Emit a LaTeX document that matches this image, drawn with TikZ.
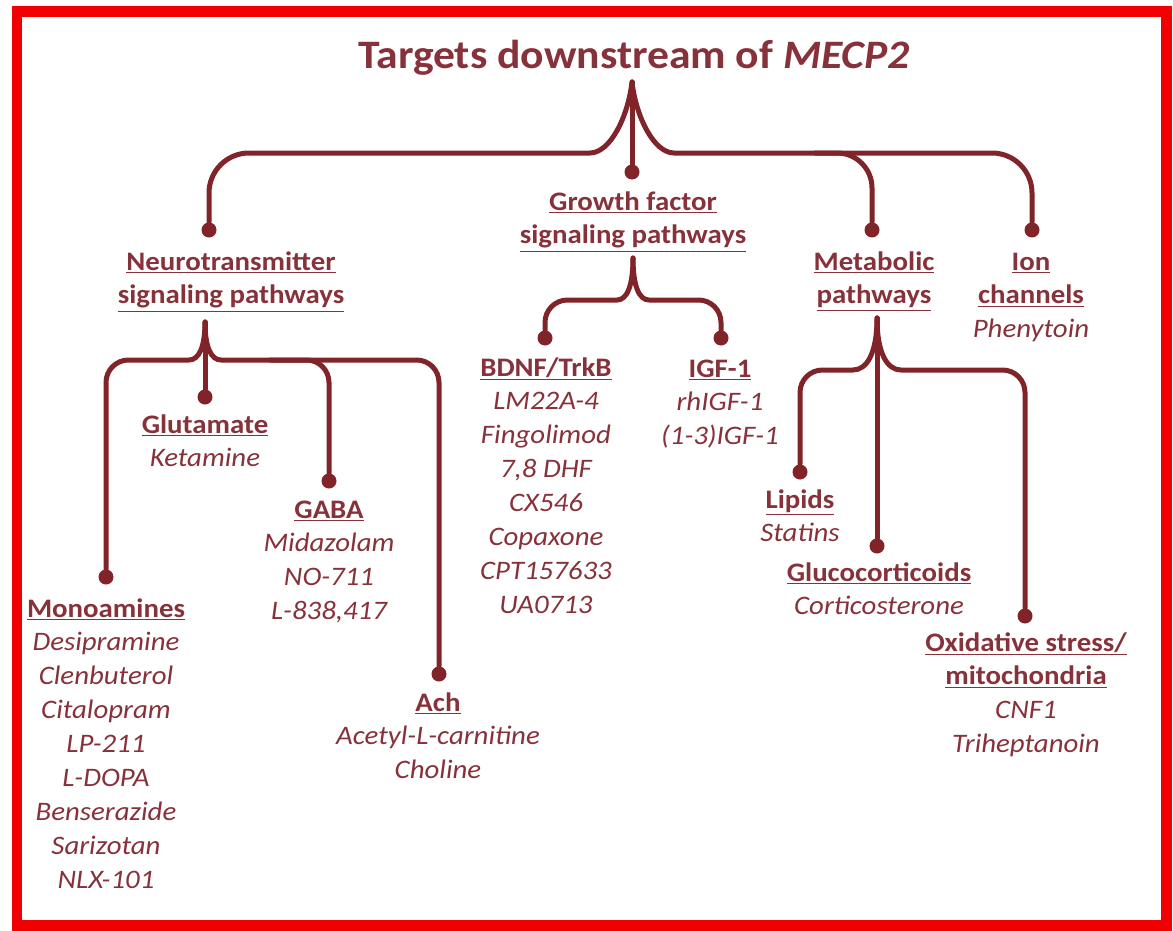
\documentclass[tikz,border=0pt]{standalone}
\usepackage{fontspec}
\setmainfont{Carlito}[FakeStretch=1.08]
\usepackage{array}
\definecolor{linecol}{RGB}{128,36,42}
\definecolor{txtcol}{RGB}{135,50,58}
\definecolor{framecol}{RGB}{240,0,0}
\newcommand{\hd}[1]{\textup{\textbf{\underline{#1}}}}
\newcommand{\stack}[1]{\begin{tabular}[t]{@{}>{\itshape}c@{}}#1\end{tabular}}
\begin{document}
\begin{tikzpicture}[x=0.02cm, y=0.02cm,
	link/.style={draw=linecol, line width=0.1cm, line cap=round},
	dot/.style={circle, fill=linecol, inner sep=0pt, minimum size=0.3cm},
	lbl/.style={anchor=base, text=txtcol, inner sep=0pt, font=\fontsize{15.2}{19.3}\selectfont}]
	\useasboundingbox (0,0) rectangle (1173,-930);
	\draw[line width=0.22cm, framecol] (17,-11) rectangle (1166,-925);
	
	\node[lbl, font=\fontsize{23}{28}\selectfont\bfseries] (title) at (634,-68) {Targets downstream of \textit{MECP2}};
	
	\coordinate (tip-0) at (632,-82);
	\coordinate (tip-1) at (205,-322);
	\coordinate (tip-2) at (633,-258);
	\coordinate (tip-3) at (877,-318);
	\coordinate (br-metab) at (815,-153);
	\coordinate (br-gaba) at (270,-360);
	
	\node[dot] (dot-neuro) at (209,-230) {};
	\node[dot] (dot-growth) at (632,-172) {};
	\node[dot] (dot-metab) at (872,-230) {};
	\node[dot] (dot-ion) at (1032,-230) {};
	\node[dot] (dot-mono) at (106,-577) {};
	\node[dot] (dot-glut) at (205,-397) {};
	\node[dot] (dot-gaba) at (329,-481) {};
	\node[dot] (dot-ach) at (439,-674) {};
	\node[dot] (dot-bdnf) at (545,-338) {};
	\node[dot] (dot-igf) at (721,-338) {};
	\node[dot] (dot-lip) at (800,-472) {};
	\node[dot] (dot-gluc) at (877,-546) {};
	\node[dot] (dot-ox) at (1025,-616) {};
	
	\draw[link] (tip-0) .. controls +(-4,-35) and +(20,0) .. ++(-42,-71) [rounded corners=0.8cm] -| (dot-neuro);
	\draw[link] (tip-0) -- (dot-growth);
	\draw[link] (tip-0) .. controls +(4,-35) and +(-20,0) .. ++(42,-71) [rounded corners=0.8cm] -| (dot-ion);
	\draw[link, rounded corners=0.7cm] (br-metab) -| (dot-metab);
	
	\draw[link] (tip-1) .. controls +(0,-25) and +(10,0) .. ++(-16,-38) [rounded corners=0.45cm] -| (dot-mono);
	\draw[link] (tip-1) -- (dot-glut);
	\draw[link] (tip-1) .. controls +(0,-25) and +(-10,0) .. ++(16,-38) [rounded corners=0.45cm] -| (dot-ach);
	\draw[link, rounded corners=0.45cm] (br-gaba) -| (dot-gaba);
	
	\draw[link] (tip-2) .. controls +(0,-28) and +(10,0) .. ++(-16,-42) [rounded corners=0.45cm] -| (dot-bdnf);
	\draw[link] (tip-2) .. controls +(0,-28) and +(-10,0) .. ++(16,-42) [rounded corners=0.45cm] -| (dot-igf);
	
	\draw[link] (tip-3) .. controls +(0,-35) and +(14,0) .. ++(-24,-52) [rounded corners=0.45cm] -| (dot-lip);
	\draw[link] (tip-3) -- (dot-gluc);
	\draw[link] (tip-3) .. controls +(0,-35) and +(-14,0) .. ++(24,-52) [rounded corners=0.45cm] -| (dot-ox);
	
	\node[lbl] (lab-neuro) at (231,-270) {\stack{\hd{Neurotransmitter}\\\hd{signaling pathways}}};
	\node[lbl] (lab-growth) at (633,-210) {\stack{\hd{Growth factor}\\\hd{signaling pathways}}};
	\node[lbl] (lab-metab) at (874,-270) {\stack{\hd{Metabolic}\\\hd{pathways}}};
	\node[lbl] (lab-ion) at (1031,-270) {\stack{\hd{Ion}\\\hd{channels}\\Phenytoin}};
	\node[lbl] (lab-glut) at (205,-433) {\stack{\hd{Glutamate}\\Ketamine}};
	\node[lbl] (lab-gaba) at (329,-518) {\stack{\hd{GABA}\\Midazolam\\NO-711\\L-838,417}};
	\node[lbl] (lab-mono) at (106,-617) {\stack{\hd{Monoamines}\\Desipramine\\Clenbuterol\\Citalopram\\LP-211\\L-DOPA\\Benserazide\\Sarizotan\\NLX-101}};
	\node[lbl] (lab-ach) at (438,-711) {\stack{\hd{Ach}\\Acetyl-L-carnitine\\Choline}};
	\node[lbl] (lab-bdnf) at (546,-376) {\stack{\hd{BDNF/TrkB}\\LM22A-4\\Fingolimod\\7,8 DHF\\CX546\\Copaxone\\CPT157633\\UA0713}};
	\node[lbl] (lab-igf) at (720,-377) {\stack{\hd{IGF-1}\\rhIGF-1\\(1-3)IGF-1}};
	\node[lbl] (lab-lip) at (800,-508) {\stack{\hd{Lipids}\\Statins}};
	\node[lbl] (lab-gluc) at (879,-581) {\stack{\hd{Glucocorticoids}\\Corticosterone}};
	\node[lbl] (lab-ox) at (1026,-651) {\stack{\hd{Oxidative stress/}\\\hd{mitochondria}\\CNF1\\Triheptanoin}};
\end{tikzpicture}
\end{document}
